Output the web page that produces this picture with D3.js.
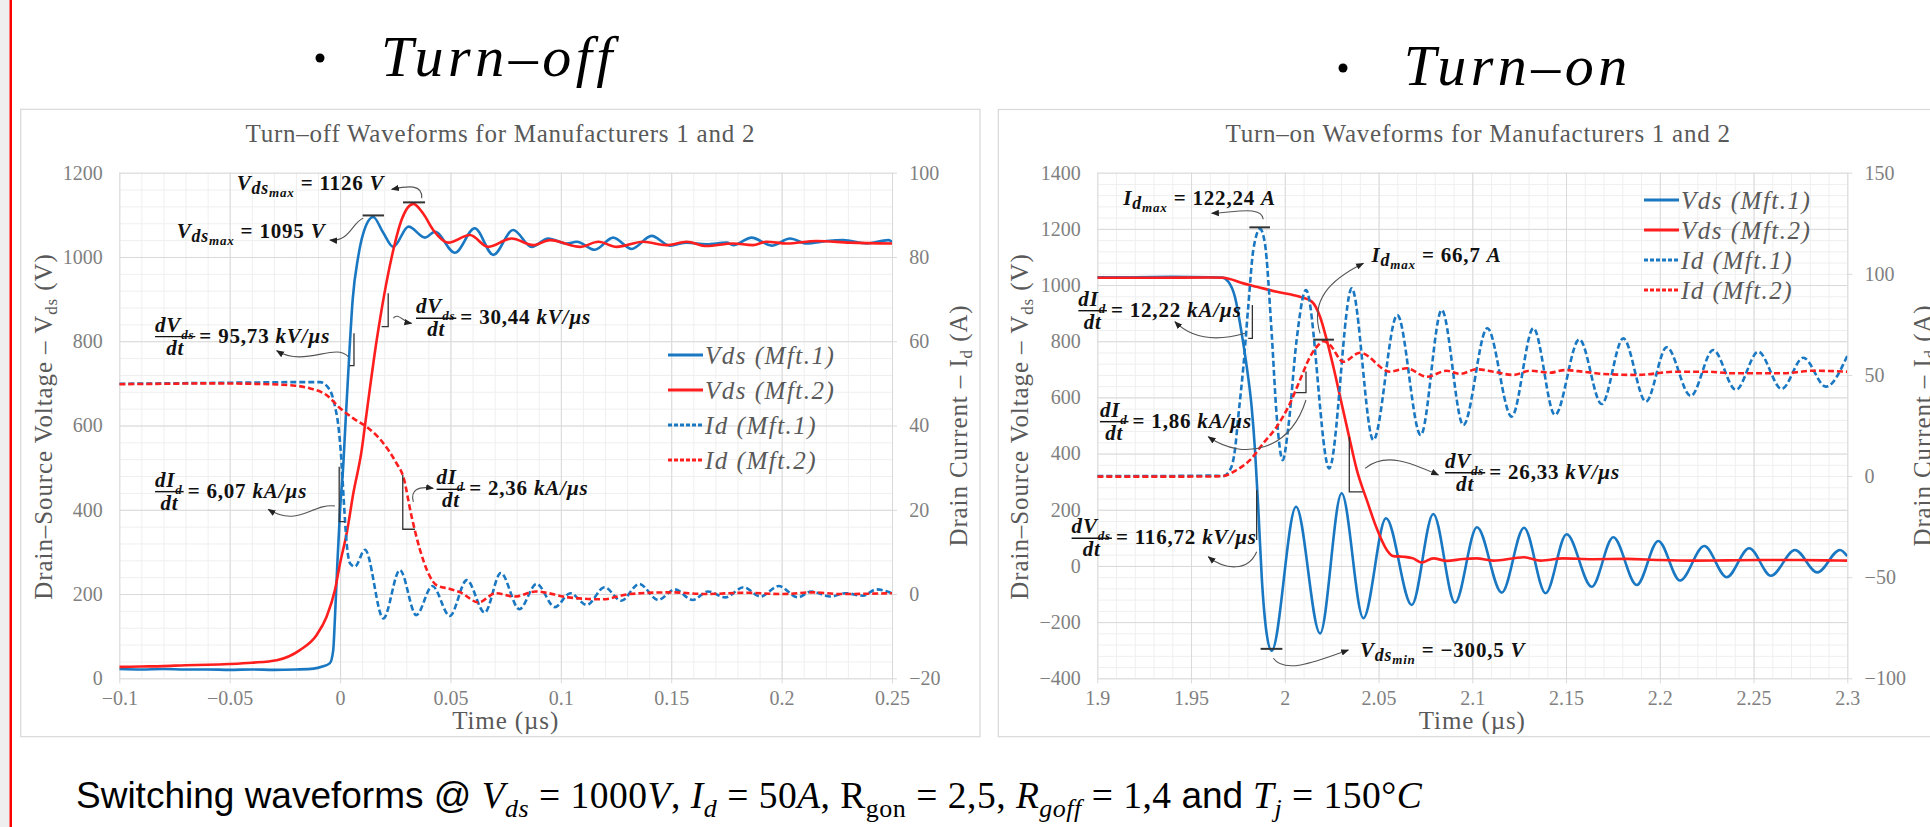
<!DOCTYPE html>
<html>
<head>
<meta charset="utf-8">
<script src="https://cdn.jsdelivr.net/npm/d3@7"></script>
<style>
  html, body { margin: 0; padding: 0; background: #fff; overflow: hidden; }
  svg { display: block; }
</style>
</head>
<body>
<svg id="root" width="1930" height="827"></svg>
<script>
/** --- DATA (time in µs, Vds in V, Id in A) --- */

const offTicksX = [-0.1, -0.05, 0, 0.05, 0.1, 0.15, 0.2, 0.25];
const offTicksV = [0, 200, 400, 600, 800, 1000, 1200];
const offTicksI = [-20, 0, 20, 40, 60, 80, 100];
const onTicksX = [1.9, 1.95, 2, 2.05, 2.1, 2.15, 2.2, 2.25, 2.3];
const onTicksV = [-400, -200, 0, 200, 400, 600, 800, 1000, 1200, 1400];
const onTicksI = [-100, -50, 0, 50, 100, 150];
const legendNames = ['Vds (Mft.1)', 'Vds (Mft.2)', 'Id (Mft.1)', 'Id (Mft.2)'];

// turn-off
const offVds1 = [[-0.1, 22], [-0.09, 21], [-0.08, 22], [-0.07, 21], [-0.06, 21], [-0.05, 20], [-0.04, 21], [-0.03, 20],
  [-0.02, 21], [-0.012, 23], [-0.008, 28], [-0.0046, 36], [-0.0031, 67], [-0.0023, 146], [-0.0013, 265], [0, 400],
  [0.0015, 510], [0.0022, 580], [0.0045, 800], [0.0057, 898], [0.0082, 1000], [0.0105, 1056], [0.015, 1095],
  [0.0195, 1058], [0.0241, 1024], [0.031, 1072], [0.0385, 1046], [0.043, 1060], [0.052, 1010], [0.061, 1068],
  [0.0694, 1005], [0.0784, 1064], [0.0868, 1024], [0.0943, 1044], [0.1026, 1032], [0.1072, 1036], [0.1154, 1017],
  [0.1237, 1046], [0.1321, 1019], [0.1411, 1050], [0.1494, 1027], [0.157, 1034], [0.166, 1030], [0.1751, 1034],
  [0.1781, 1028], [0.1864, 1046], [0.1955, 1027], [0.2038, 1044], [0.2113, 1032], [0.2204, 1038], [0.2279, 1040],
  [0.2385, 1032], [0.2483, 1040], [0.25, 1036]];
const offVds2 = [[-0.1, 27], [-0.09, 28], [-0.08, 29], [-0.07, 31], [-0.06, 32], [-0.05, 34], [-0.04, 37],
  [-0.0287, 43], [-0.0182, 67], [-0.0106, 103], [-0.0061, 146], [-0.0023, 210], [0, 273], [0.003, 344],
  [0.006, 439], [0.0098, 542], [0.0113, 601], [0.0166, 803], [0.0234, 1000], [0.028, 1090], [0.0332, 1126],
  [0.038, 1100], [0.0422, 1064], [0.049, 1034], [0.0588, 1052], [0.0671, 1024], [0.0777, 1044], [0.0875, 1028],
  [0.0951, 1040], [0.1087, 1024], [0.117, 1036], [0.1253, 1024], [0.1373, 1036], [0.1479, 1028], [0.157, 1036],
  [0.166, 1026], [0.178, 1032], [0.187, 1028], [0.193, 1036], [0.2023, 1032], [0.2159, 1038], [0.231, 1034],
  [0.25, 1032]];
const offId1 = [[-0.1, 49.9], [-0.08, 50], [-0.06, 50.1], [-0.04, 50.2], [-0.02, 50.3], [-0.0091, 50.3],
  [-0.0046, 48.4], [-0.0023, 44.5], [-0.0008, 40], [0.0007, 31], [0.0017, 22], [0.003, 12], [0.0045, 7.3],
  [0.0067, 6.5], [0.0113, 10.5], [0.0196, -5.8], [0.0271, 5.7], [0.0345, -5], [0.0418, 1.9], [0.0497, -5.2],
  [0.0574, 3.3], [0.0655, -4.4], [0.0728, 5], [0.0812, -3.6], [0.089, 2.4], [0.0973, -3.1], [0.1043, 0.2],
  [0.1117, -2.6], [0.1198, 1.6], [0.1273, -1.6], [0.1355, 2.4], [0.1441, -1.4], [0.1516, 1.1], [0.1597, -1.4],
  [0.1666, 0.6], [0.1745, -0.8], [0.1828, 1.6], [0.1904, -0.6], [0.1987, 1.9], [0.2074, -0.8], [0.2134, 0.6],
  [0.2221, -0.6], [0.229, 0.2], [0.2368, -0.4], [0.2429, 1.1], [0.25, 0.2]];
const offId2 = [[-0.1, 49.8], [-0.08, 49.9], [-0.06, 50], [-0.04, 49.9], [-0.0212, 49.5], [-0.0136, 48.8],
  [-0.0061, 47.2], [0, 44.1], [0.006, 41.7], [0.012, 39.7], [0.0196, 35.8], [0.0256, 31], [0.0286, 27.9],
  [0.0324, 18.4], [0.0362, 10.5], [0.04, 4.9], [0.0437, 2.1], [0.0498, 1.2], [0.0545, 0.4], [0.0627, -2],
  [0.0705, 0.2], [0.0791, -0.6], [0.0887, 0.6], [0.1034, -0.8], [0.119, -1.25], [0.1311, 0], [0.1502, 0.4],
  [0.1658, 0], [0.1831, 0.3], [0.2005, 0], [0.2143, 0.4], [0.2264, 0], [0.25, 0.2]];

// turn-on
const onVds1 = [[1.9, 1028], [1.92, 1028], [1.94, 1029], [1.96, 1028], [1.9664, 1027], [1.9699, 1012],
  [1.9734, 958], [1.977, 828], [1.9797, 709], [1.9823, 567], [1.9841, 413], [1.9859, 200], [1.9877, -40],
  [1.9903, -240], [1.993, -302], [2.006, 211], [2.0188, -240], [2.0303, 259], [2.0419, -186], [2.054, 170],
  [2.0677, -139], [2.0792, 185], [2.0908, -131], [2.1025, 138], [2.1157, -95], [2.1276, 136], [2.1391, -97],
  [2.1503, 113], [2.1637, -74], [2.1752, 102], [2.1877, -68], [2.1992, 89], [2.2108, -52], [2.2237, 71],
  [2.2357, -40], [2.2477, 63], [2.2593, -35], [2.2721, 57], [2.284, -23], [2.2961, 57], [2.3, 35]];
const onVds2 = [[1.9, 1026], [1.93, 1026], [1.96, 1027], [1.9672, 1026], [1.9779, 1006], [1.985, 994],
  [1.9957, 976], [2.0081, 958], [2.0144, 941], [2.0188, 887], [2.0224, 804], [2.0259, 709], [2.0295, 602],
  [2.0339, 472], [2.0384, 342], [2.0437, 235], [2.049, 134], [2.0544, 57], [2.0579, 35], [2.0632, 33],
  [2.0685, 27], [2.073, 12], [2.0792, 27], [2.0864, 18], [2.0952, 25], [2.1023, 27], [2.1112, 19],
  [2.1276, 31], [2.1365, 19], [2.1483, 27], [2.1643, 24], [2.1821, 25], [2.1998, 21], [2.2176, 19],
  [2.2354, 20], [2.2532, 21], [2.271, 21], [2.2887, 20], [2.3, 19]];
const onId1 = [[1.9, 0], [1.93, 0], [1.96, 0.2], [1.9672, 0], [1.9708, 3], [1.9734, 12.9], [1.9752, 29.4],
  [1.9779, 54.1], [1.9805, 83.7], [1.9832, 111.8], [1.9868, 122.2], [1.9894, 115], [1.993, 70.6],
  [1.9957, 29.4], [1.9989, 7.9], [2.0019, 24.4], [2.0063, 67.3], [2.0113, 92], [2.0237, 3.8], [2.0357, 92.8],
  [2.0472, 17.8], [2.06, 79.6], [2.0725, 20.3], [2.0837, 82.1], [2.0952, 25.2], [2.108, 73.1], [2.121, 29.4],
  [2.1326, 73.1], [2.1441, 30.2], [2.1571, 67.6], [2.169, 35.6], [2.1805, 68.1], [2.1926, 36.8], [2.2037, 63.7],
  [2.2165, 39.6], [2.2285, 62.3], [2.2406, 42.6], [2.2525, 61.5], [2.265, 43.1], [2.2765, 58.5], [2.2886, 44.2],
  [2.3, 59.5]];
const onId2 = [[1.9, -0.3], [1.93, -0.3], [1.96, -0.2], [1.9672, 0], [1.9743, 3], [1.9814, 7.9], [1.9885, 16.2],
  [1.9957, 24.4], [2.0028, 36], [2.0081, 47.5], [2.0135, 59], [2.0179, 64.8], [2.0206, 66.7], [2.0241, 64.8],
  [2.0312, 56.5], [2.0401, 61], [2.0561, 51.6], [2.065, 53.3], [2.0757, 49.1], [2.0864, 52.1], [2.0934, 50.5],
  [2.1023, 52.8], [2.1112, 51.6], [2.1219, 50], [2.1308, 52.1], [2.1414, 51.1], [2.1494, 52.4], [2.1592, 51.6],
  [2.1699, 50.5], [2.1877, 50], [2.209, 51.6], [2.225, 51.6], [2.2392, 50.8], [2.2659, 50.8], [2.2819, 52.1],
  [2.3, 51.6]];

// annotations, in data units of each chart (time, Vds-axis value unless marked 'I')
const offBars = [[0.0285, 0.0385, 1126, 'V'], [0.0102, 0.0199, 1095, 'V']];
const offSlopes = [
  [[0.0063, 819], [0.0063, 742], [0.0042, 742]],
  [[0.0218, 914], [0.0218, 834.6], [0.0188, 834.6]],
  [[-0.0004, 502], [-0.0004, 372], [0.0022, 372]],
  [[0.0284, 482.6], [0.0284, 353.7], [0.0339, 353.7]]
];
const offArrows = [
  [[0.037, 1139.3], [0.0375, 1173.5], [0.0308, 1168.8], [0.0234, 1160.7]],
  [[0.0105, 1091.8], [0.0054, 1082.3], [0.0045, 1035.6], [-0.0046, 1040.3]],
  [[0.0037, 763.3], [-0.0023, 798.2], [-0.0159, 736.5], [-0.0287, 777.6]],
  [[0.0241, 854.5], [0.0262, 869.5], [0.0285, 845.8], [0.0324, 842.6]],
  [[-0.0023, 409], [-0.0127, 416.1], [-0.019, 356.8], [-0.0325, 401.1]],
  [[0.0332, 418.5], [0.0317, 447], [0.0353, 456.4], [0.0422, 451]]
];
const offLabels = [
  { at: [-0.0468, 1159], sym: 'V', sub: 'ds', sub2: 'max', val: '1126', unit: 'V' },
  { at: [-0.074, 1045], sym: 'V', sub: 'ds', sub2: 'max', val: '1095', unit: 'V' }
];
const offFracs = [
  { at: [-0.0838, 811], sym: 'V', sub: 'ds', val: '95,73', unit: 'kV' },
  { at: [0.0344, 854.5], sym: 'V', sub: 'ds', val: '30,44', unit: 'kV' },
  { at: [-0.0838, 443], sym: 'I', sub: 'd', val: '6,07', unit: 'kA' },
  { at: [0.0437, 448.6], sym: 'I', sub: 'd', val: '2,36', unit: 'kA' }
];

const onBars = [[1.9811, 1.9921, 122.24, 'I'], [2.0152, 2.0262, 66.7, 'I'], [1.9871, 1.9987, -300.5, 'V']];
const onSlopes = [
  [[1.9827, 929], [1.9827, 810], [1.9805, 810]],
  [[2.0113, 692], [2.0113, 617], [2.006, 617]],
  [[2.0344, 460], [2.0344, 264], [2.0416, 264]],
  [[1.985, 270], [1.985, 92]]
];
const onArrows = [
  [[1.9885, 1234.1], [1.9878, 1284], [1.9734, 1259], [1.961, 1255.5]],
  [[2.0188, 828.2], [2.0134, 946.7], [2.0241, 1018], [2.0419, 1077.5]],
  [[1.9788, 828.2], [1.9665, 804.4], [1.9521, 797.3], [1.9414, 869.5]],
  [[2.0113, 590.8], [2.0028, 412.8], [1.9788, 370], [1.9592, 460.1]],
  [[2.0428, 347.6], [2.0535, 405.6], [2.0668, 370], [2.0819, 323.8]],
  [[1.985, 50.7], [1.9804, -21.6], [1.9681, -14.5], [1.9592, 32.9]],
  [[1.9939, -328.8], [2.0001, -388.3], [2.0188, -334.9], [2.0339, -299.2]]
];
const onLabels = [
  { at: [1.9139, 1285], sym: 'I', sub: 'd', sub2: 'max', val: '122,24', unit: 'A' },
  { at: [2.0463, 1083], sym: 'I', sub: 'd', sub2: 'max', val: '66,7', unit: 'A' },
  { at: [2.0401, -323], sym: 'V', sub: 'ds', sub2: 'min', val: '−300,5', unit: 'V' }
];
const onFracs = [
  { at: [1.8899, 908.7], sym: 'I', sub: 'd', val: ' 12,22', unit: 'kA' },
  { at: [1.9014, 513.5], sym: 'I', sub: 'd', val: ' 1,86', unit: 'kA' },
  { at: [2.0854, 332], sym: 'V', sub: 'ds', val: '26,33', unit: 'kV' },
  { at: [1.8863, 98.4], sym: 'V', sub: 'ds', val: ' 116,72', unit: 'kV' }
];

/** --- STYLE --- */

const SERIF = "'Liberation Serif', 'Times New Roman', serif";
const SANS = "'Liberation Sans', Arial, sans-serif";
const BLUE = '#1a78c2';
const RED = '#ff1e1e';
const GRID = '#d9d9d9';
const MINOR = '#efefef';
const TICK_TXT = '#7f7f7f';
const TITLE_TXT = '#595959';
const INK = '#111';
const ANN_SIZE = 21;

const svg = d3.select('#root');
const fmt = d3.format('~g');

svg.append('rect').attr('width', 1930).attr('height', 827).attr('fill', '#fff');
svg.append('rect').attr('x', 0).attr('y', 0).attr('width', 9.5).attr('height', 827).attr('fill', '#efefef');
svg.append('rect').attr('x', 9.5).attr('y', 0).attr('width', 2.5).attr('height', 827).attr('fill', '#ff0000');

const defs = svg.append('defs');
defs.append('marker')
  .attr('id', 'arr')
  .attr('viewBox', '0 0 10 10')
  .attr('refX', 9).attr('refY', 5)
  .attr('markerUnits', 'userSpaceOnUse')
  .attr('markerWidth', 8).attr('markerHeight', 8)
  .attr('orient', 'auto')
  .append('path').attr('d', 'M0,1 L10,5 L0,9 Z').attr('fill', '#222');

// text with italic / subscript pieces: [text, italic, level]
function mathText(sel, x, y, segs, size) {
  const t = sel.append('text')
    .attr('x', x).attr('y', y)
    .attr('font-family', SERIF)
    .attr('font-size', size)
    .attr('font-weight', 'bold')
    .attr('letter-spacing', 0.8)
    .attr('fill', INK);
  let shift = 0;
  segs.forEach(s => {
    const lvl = s[2] || 0;
    const sh = [0, 0.2, 0.34][lvl] * size;
    t.append('tspan')
      .attr('dy', sh - shift)
      .attr('font-size', [1, 0.85, 0.62][lvl] * size)
      .attr('font-style', s[1] ? 'italic' : 'normal')
      .text(s[0]);
    shift = sh;
  });
  return t;
}

function drawChart(cfg) {
  const [bx0, by0, bx1, by1] = cfg.box;
  const [px0, py0, px1, py1] = cfg.plot;
  const g = svg.append('g');

  g.append('rect')
    .attr('x', bx0).attr('y', by0)
    .attr('width', bx1 - bx0).attr('height', by1 - by0)
    .attr('fill', '#fff').attr('stroke', GRID).attr('stroke-width', 1.2);

  g.append('text')
    .attr('x', (bx0 + bx1) / 2).attr('y', by0 + 32.5)
    .attr('text-anchor', 'middle')
    .attr('font-family', SERIF).attr('font-size', 25).attr('letter-spacing', 0.75)
    .attr('fill', TITLE_TXT)
    .text(cfg.title);

  const x = d3.scaleLinear().domain(cfg.xDom).range([px0, px1]);
  const yV = d3.scaleLinear().domain(cfg.vDom).range([py1, py0]);
  const yI = d3.scaleLinear().domain(cfg.iDom).range([py1, py0]);
  const ys = { V: yV, I: yI };

  function gridLayer(xs, vs, color) {
    g.append('g').attr('transform', `translate(0,${py1})`)
      .call(d3.axisBottom(x).tickValues(xs).tickSize(-(py1 - py0)).tickFormat(''))
      .call(s => s.select('.domain').remove())
      .call(s => s.selectAll('line').attr('stroke', color));
    g.append('g').attr('transform', `translate(${px0},0)`)
      .call(d3.axisLeft(yV).tickValues(vs).tickSize(-(px1 - px0)).tickFormat(''))
      .call(s => s.select('.domain').remove())
      .call(s => s.selectAll('line').attr('stroke', color));
  }
  gridLayer(d3.range(cfg.xDom[0], cfg.xDom[1] + 1e-9, 0.01), d3.range(cfg.vDom[0], cfg.vDom[1] + 1e-9, 40), MINOR);
  gridLayer(cfg.xTicks, cfg.vTicks, GRID);

  function styleAxis(s) {
    s.attr('font-family', SERIF).attr('font-size', 20);
    s.select('.domain').remove();
    s.selectAll('line').attr('stroke', GRID);
    s.selectAll('text').attr('fill', TICK_TXT);
  }
  g.append('g').attr('transform', `translate(0,${py1})`)
    .call(d3.axisBottom(x).tickValues(cfg.xTicks).tickSize(5).tickPadding(8).tickFormat(fmt))
    .call(styleAxis);
  g.append('g').attr('transform', `translate(${px0},0)`)
    .call(d3.axisLeft(yV).tickValues(cfg.vTicks).tickSize(0).tickPadding(16.6).tickFormat(fmt))
    .call(styleAxis);
  g.append('g').attr('transform', `translate(${px1},0)`)
    .call(d3.axisRight(yI).tickValues(cfg.iTicks).tickSize(5).tickPadding(12.3).tickFormat(fmt))
    .call(styleAxis);

  // axis titles
  function axisTitle(tx, ty, rot, main, sub, tail) {
    const t = g.append('text')
      .attr('transform', `translate(${tx},${ty})` + (rot ? ' rotate(-90)' : ''))
      .attr('text-anchor', 'middle')
      .attr('font-family', SERIF).attr('font-size', 25).attr('letter-spacing', 0.9)
      .attr('fill', TITLE_TXT);
    t.append('tspan').text(main);
    if (sub) {
      t.append('tspan').attr('dy', 5).attr('font-size', 17).text(sub);
      t.append('tspan').attr('dy', -5).text(tail);
    }
  }
  const cy = (py0 + py1) / 2;
  axisTitle((px0 + px1) / 2, py1 + 51, false, 'Time (µs)');
  axisTitle(cfg.vTitleX, cy + 1, true, 'Drain–Source Voltage – V', 'ds', ' (V)');
  axisTitle(cfg.iTitleX, cy, true, 'Drain Current – I', 'd', ' (A)');

  // series
  const clipId = 'clip' + cfg.key;
  defs.append('clipPath').attr('id', clipId)
    .append('rect').attr('x', px0).attr('y', py0).attr('width', px1 - px0).attr('height', py1 - py0);
  const plot = g.append('g').attr('clip-path', `url(#${clipId})`);
  cfg.series.forEach(s => {
    const line = d3.line()
      .x(d => x(d[0]))
      .y(d => ys[s.axis](d[1]))
      .curve(d3.curveMonotoneX);
    plot.append('path')
      .datum(s.data)
      .attr('fill', 'none')
      .attr('stroke', s.color)
      .attr('stroke-width', 2.6)
      .attr('stroke-dasharray', s.dash)
      .attr('stroke-linejoin', 'round')
      .attr('d', line);
  });

  // legend
  const lg = g.append('g');
  cfg.series.forEach((s, i) => {
    const ly = cfg.legend.y + i * cfg.legend.dy;
    lg.append('line')
      .attr('x1', cfg.legend.x).attr('x2', cfg.legend.x + 35)
      .attr('y1', ly).attr('y2', ly)
      .attr('stroke', s.color).attr('stroke-width', 3)
      .attr('stroke-dasharray', s.dash ? '4,2' : null);
    lg.append('text')
      .attr('x', cfg.legend.x + 37).attr('y', ly).attr('dy', '0.35em')
      .attr('font-family', SERIF).attr('font-size', 25).attr('font-style', 'italic')
      .attr('letter-spacing', 1.5)
      .attr('fill', TITLE_TXT)
      .text(legendNames[i]);
  });

  // annotations
  const an = g.append('g');
  cfg.bars.forEach(b => {
    const yy = ys[b[3]](b[2]);
    an.append('line')
      .attr('x1', x(b[0])).attr('x2', x(b[1]))
      .attr('y1', yy - 1.5).attr('y2', yy - 1.5)
      .attr('stroke', '#333').attr('stroke-width', 2);
  });
  cfg.slopes.forEach(p => {
    an.append('path')
      .attr('d', d3.line().x(d => x(d[0])).y(d => yV(d[1]))(p))
      .attr('fill', 'none').attr('stroke', '#333').attr('stroke-width', 1.3);
  });
  cfg.arrows.forEach(a => {
    const p = d3.path();
    p.moveTo(x(a[0][0]), yV(a[0][1]));
    p.bezierCurveTo(x(a[1][0]), yV(a[1][1]), x(a[2][0]), yV(a[2][1]), x(a[3][0]), yV(a[3][1]));
    an.append('path')
      .attr('d', p.toString())
      .attr('fill', 'none').attr('stroke', '#555').attr('stroke-width', 1.1)
      .attr('marker-end', 'url(#arr)');
  });
  cfg.labels.forEach(l => {
    mathText(an, x(l.at[0]), yV(l.at[1]), [
      [l.sym, 1, 0], [l.sub, 1, 1], [l.sub2, 1, 2], [' = ' + l.val + ' ', 0, 0], [l.unit, 1, 0]
    ], ANN_SIZE);
  });
  cfg.fracs.forEach(f => {
    const fx = x(f.at[0]);
    const fy = yV(f.at[1]);
    const num = mathText(an, fx, fy - 5, [['d' + f.sym, 1, 0], [f.sub, 1, 2]], ANN_SIZE);
    const w = num.node().getComputedTextLength() + 1;
    an.append('line')
      .attr('x1', fx).attr('x2', fx + w)
      .attr('y1', fy).attr('y2', fy)
      .attr('stroke', INK).attr('stroke-width', 1.4);
    mathText(an, fx + w / 2, fy + 18, [['dt', 1, 0]], ANN_SIZE).attr('text-anchor', 'middle');
    mathText(an, fx + w + 4, fy + 6, [['= ' + f.val + ' ', 0, 0], [f.unit + '/µs', 1, 0]], ANN_SIZE);
  });
}

drawChart({
  key: 'off',
  box: [20.7, 109.3, 980, 736.7],
  plot: [119.3, 172.7, 892, 678.3],
  title: 'Turn–off Waveforms for Manufacturers 1 and 2',
  xDom: [-0.1, 0.25], vDom: [0, 1200], iDom: [-20, 100],
  xTicks: offTicksX, vTicks: offTicksV, iTicks: offTicksI,
  vTitleX: 51.7, iTitleX: 967,
  series: [
    { data: offVds1, axis: 'V', color: BLUE, dash: null },
    { data: offVds2, axis: 'V', color: RED, dash: null },
    { data: offId1, axis: 'I', color: BLUE, dash: '6,3' },
    { data: offId2, axis: 'I', color: RED, dash: '6,3' }
  ],
  legend: { x: 668, y: 355, dy: 35 },
  bars: offBars, slopes: offSlopes, arrows: offArrows, labels: offLabels, fracs: offFracs
});

drawChart({
  key: 'on',
  box: [998.3, 109.5, 1958, 736.7],
  plot: [1097.3, 172.7, 1847.3, 678.3],
  title: 'Turn–on Waveforms for Manufacturers 1 and 2',
  xDom: [1.9, 2.3], vDom: [-400, 1400], iDom: [-100, 150],
  xTicks: onTicksX, vTicks: onTicksV, iTicks: onTicksI,
  vTitleX: 1028.3, iTitleX: 1931,
  series: [
    { data: onVds1, axis: 'V', color: BLUE, dash: null },
    { data: onVds2, axis: 'V', color: RED, dash: null },
    { data: onId1, axis: 'I', color: BLUE, dash: '6,3' },
    { data: onId2, axis: 'I', color: RED, dash: '6,3' }
  ],
  legend: { x: 1644, y: 200, dy: 30 },
  bars: onBars, slopes: onSlopes, arrows: onArrows, labels: onLabels, fracs: onFracs
});

/** --- HEADINGS + CAPTION --- */

function heading(bx, by, tx, ty, label) {
  svg.append('circle').attr('cx', bx).attr('cy', by).attr('r', 4.5).attr('fill', '#000');
  svg.append('text')
    .attr('x', tx).attr('y', ty)
    .attr('font-family', SERIF).attr('font-size', 58).attr('font-style', 'italic')
    .attr('letter-spacing', 4.5)
    .attr('fill', '#000')
    .text(label);
}
heading(320, 58, 381, 76, 'Turn–off');
heading(1343, 68, 1403.7, 85, 'Turn–on');

const capSegs = [
  ['Switching waveforms @ ', SANS, 0, 0],
  ['V', SERIF, 1, 0], ['ds', SERIF, 1, 1], [' = 1000', SERIF, 0, 0], ['V', SERIF, 1, 0], [', ', SERIF, 0, 0],
  ['I', SERIF, 1, 0], ['d', SERIF, 1, 1], [' = 50', SERIF, 0, 0], ['A', SERIF, 1, 0], [', ', SERIF, 0, 0],
  ['R', SERIF, 0, 0], ['gon', SERIF, 0, 1], [' = 2,5, ', SERIF, 0, 0],
  ['R', SERIF, 1, 0], ['goff', SERIF, 1, 1], [' = 1,4 ', SERIF, 0, 0],
  ['and', SANS, 0, 0], [' ', SERIF, 0, 0],
  ['T', SERIF, 1, 0], ['j', SERIF, 1, 1], [' = 150°', SERIF, 0, 0], ['C', SERIF, 1, 0]
];
const cap = svg.append('text').attr('x', 76).attr('y', 808).attr('fill', '#000');
let capShift = 0;
capSegs.forEach(s => {
  const sh = s[3] ? 9 : 0;
  const sans = s[1] === SANS;
  cap.append('tspan')
    .attr('dy', sh - capShift)
    .attr('font-family', s[1])
    .attr('font-style', s[2] ? 'italic' : 'normal')
    .attr('font-size', s[3] ? 26 : (sans ? 37 : 37.5))
    .attr('letter-spacing', sans ? 0 : 0.5)
    .text(s[0]);
  capShift = sh;
});
</script>
</body>
</html>
